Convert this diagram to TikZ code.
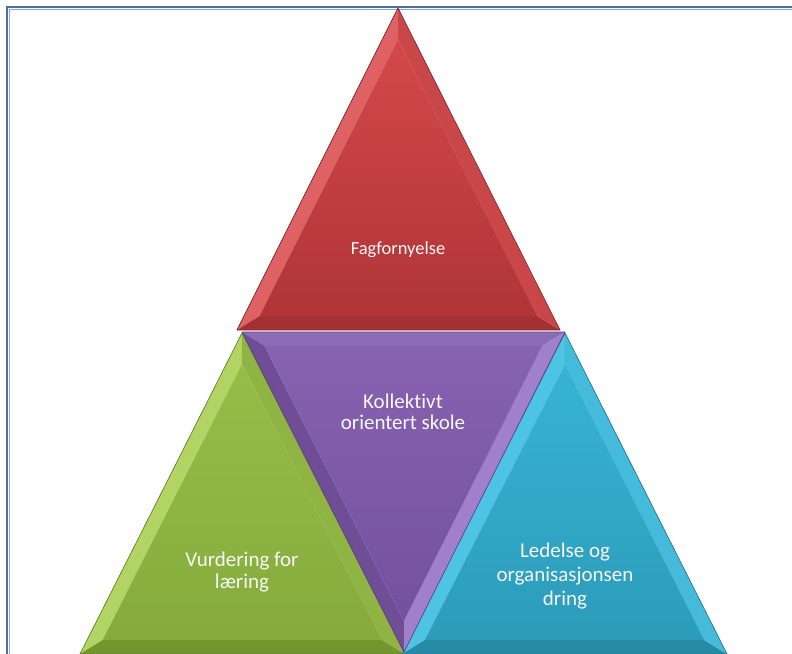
\documentclass[tikz,border=0pt]{standalone}
\usepackage{fontspec}
\setmainfont{Carlito}[Ligatures=NoCommon]
\usetikzlibrary{calc}
\definecolor{frameblue}{HTML}{4E6E9E}
\definecolor{framelight}{HTML}{8EA6C8}
% red
\definecolor{rTop}{HTML}{D4484B}
\definecolor{rBot}{HTML}{B03537}
\definecolor{rL}{HTML}{DE6264}
\definecolor{rR}{HTML}{C94649}
\definecolor{rBf}{HTML}{A33133}
\definecolor{rEdge}{HTML}{8A2A2B}
% purple
\definecolor{pTop}{HTML}{8662B0}
\definecolor{pBot}{HTML}{7550A1}
\definecolor{pTf}{HTML}{8E6BB8}
\definecolor{pL}{HTML}{6F4D97}
\definecolor{pR}{HTML}{A080CC}
\definecolor{pEdge}{HTML}{5E4184}
% green
\definecolor{gTop}{HTML}{96BD48}
\definecolor{gBot}{HTML}{86AB3C}
\definecolor{gL}{HTML}{B2D465}
\definecolor{gR}{HTML}{8FB443}
\definecolor{gBf}{HTML}{74952F}
\definecolor{gEdge}{HTML}{62802A}
% blue
\definecolor{bTop}{HTML}{38B3D4}
\definecolor{bBot}{HTML}{2C9CBA}
\definecolor{bL}{HTML}{4EC4E4}
\definecolor{bR}{HTML}{45BADB}
\definecolor{bBf}{HTML}{278BA6}
\definecolor{bEdge}{HTML}{217A92}
\definecolor{txt}{HTML}{F7F7F7}
\newcommand{\bevtri}[7]{%
  \fill[#2] (#1A) -- (#1B) -- (#1Bi) -- (#1Ai) -- cycle;
  \fill[#3] (#1B) -- (#1C) -- (#1Ci) -- (#1Bi) -- cycle;
  \fill[#4] (#1C) -- (#1A) -- (#1Ai) -- (#1Ci) -- cycle;
  \shade[top color=#5,bottom color=#6] (#1Ai) -- (#1Bi) -- (#1Ci) -- cycle;
  \draw[#7, line width=0.7pt, line join=round] (#1A) -- (#1B) -- (#1C) -- cycle;
}
\newcommand{\innerpts}[2]{%
  \coordinate (#1Ai) at ($(#1I)!#2!(#1A)$);
  \coordinate (#1Bi) at ($(#1I)!#2!(#1B)$);
  \coordinate (#1Ci) at ($(#1I)!#2!(#1C)$);
}
\tikzset{
  lbl/.style={text=txt, align=center, inner sep=0pt},
}
\begin{document}
\begin{tikzpicture}[x=1pt,y=-1pt]
\useasboundingbox (0,0) rectangle (792,653);
\fill[white] (0,0) rectangle (792,653);
% frame
\draw[framelight, line width=1pt] (9.5,9.5) rectangle (800,670);
\draw[frameblue, line width=2pt] (7,7) rectangle (802,672);
% green: A apex, B bottom-left, C bottom-right
\coordinate (gA) at (242,333);
\coordinate (gB) at (80,654);
\coordinate (gC) at (405,654);
\coordinate (gI) at (242,554);
\innerpts{g}{0.86}
\bevtri{g}{gL}{gBf}{gR}{gTop}{gBot}{gEdge}
% blue
\coordinate (bA) at (565,333);
\coordinate (bB) at (402,654);
\coordinate (bC) at (727,654);
\coordinate (bI) at (565,554);
\innerpts{b}{0.86}
\bevtri{b}{bL}{bBf}{bR}{bTop}{bBot}{bEdge}
% purple inverted: A top-left, B top-right, C bottom
\coordinate (pA) at (242,332);
\coordinate (pB) at (565,332);
\coordinate (pC) at (404,652);
\coordinate (pI) at (403,431);
\innerpts{p}{0.86}
\bevtri{p}{pTf}{pR}{pL}{pTop}{pBot}{pEdge}
% red
\coordinate (rA) at (398,8);
\coordinate (rB) at (237,330);
\coordinate (rC) at (560,330);
\coordinate (rI) at (398,230);
\innerpts{r}{0.86}
\bevtri{r}{rL}{rBf}{rR}{rTop}{rBot}{rEdge}
% labels
\node[lbl, font=\fontsize{18.5}{21}\selectfont] (fag) at (398,250) {Fagfornyelse};
\node[lbl, font=\fontsize{21}{21.5}\selectfont] (kol) at (403,412) {Kollektivt\\orientert skole};
\node[lbl, font=\fontsize{21}{21.5}\selectfont] (vur) at (242,572) {Vurdering for\\læring};
\node[lbl, font=\fontsize{21}{24}\selectfont] (led) at (565,576) {Ledelse og\\organisasjonsen\\dring};
\end{tikzpicture}
\end{document}
